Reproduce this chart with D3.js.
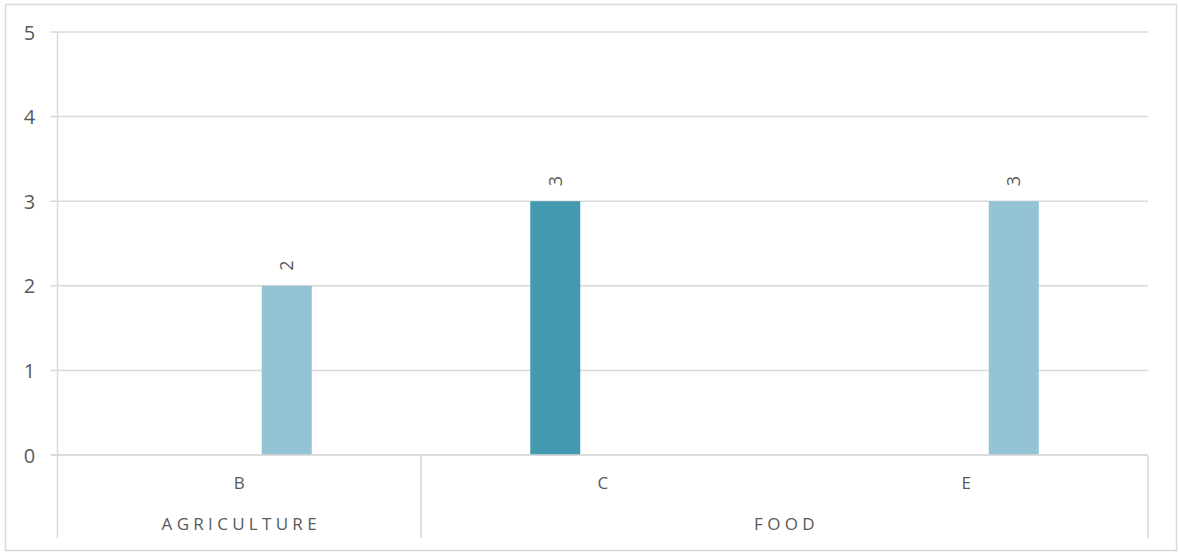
<!DOCTYPE html>
<html>
<head>
<meta charset="utf-8">
<script src="https://cdn.jsdelivr.net/npm/d3@7"></script>
<style>
  html, body { margin: 0; padding: 0; background: #fff; }
  svg { display: block; }
  text { font-family: "Open Sans", "Liberation Sans", sans-serif; fill: #595959; }
</style>
</head>
<body>
<script>
// Category axis (two levels) and series values
const categories = ["B", "C", "E"];
const categoryGroups = ["AGRICULTURE", "FOOD", "FOOD"];
const seriesNames = ["Series 1", "Series 2"];
const series1 = [null, 3, null];
const series2 = [2, null, 3];
const yTicks = [0, 1, 2, 3, 4, 5];

const seriesValues = [series1, series2];
const seriesColors = ["#4399b0", "#93c3d4"];

const W = 1178, H = 552;
const plot = { left: 57.5, right: 1148, top: 32, bottom: 455 };
const lvl1Y = 483, lvl2Y = 524, axisBottom = 538;

const svg = d3.select("body").append("svg").attr("width", W).attr("height", H);

// outer chart border
svg.append("rect")
  .attr("x", 5.5).attr("y", 4.5).attr("width", 1171).attr("height", 546)
  .attr("fill", "#fff").attr("stroke", "#d9d9d9").attr("stroke-width", 1.5);

const x0 = d3.scaleBand().domain(categories).range([plot.left, plot.right]).paddingInner(0).paddingOuter(0);
const y = d3.scaleLinear().domain([0, 5]).range([plot.bottom, plot.top]);

// inner band: two series per category, bars 50 wide with centres 95 apart
const barW = 50, seriesStep = 95;
const x1 = d3.scaleBand().domain(seriesNames)
  .range([-seriesStep, seriesStep])
  .paddingInner((seriesStep - barW) / seriesStep)
  .paddingOuter((seriesStep - barW) / seriesStep / 2);

// value axis labels
const gy = svg.append("g").attr("transform", `translate(${plot.left},0)`);
gy.call(d3.axisLeft(y).tickValues(yTicks).tickSize(0).tickFormat(d3.format("d")));
gy.select(".domain").remove();
gy.selectAll(".tick text")
  .attr("x", -28).attr("dy", "0.35em")
  .style("font-size", "20px").attr("fill", "#595959")
  .attr("text-anchor", "middle");

// horizontal gridlines with tick stubs on the left
const grid = svg.append("g");
grid.selectAll("line").data(yTicks).join("line")
  .attr("x1", plot.left - 7).attr("x2", plot.right)
  .attr("y1", d => y(d)).attr("y2", d => y(d))
  .attr("stroke", "#d9d9d9").attr("stroke-width", 1.5);

// vertical axis line
svg.append("line")
  .attr("x1", plot.left).attr("x2", plot.left)
  .attr("y1", plot.top).attr("y2", axisBottom)
  .attr("stroke", "#d9d9d9").attr("stroke-width", 1.5);

// bars
const bars = [];
seriesValues.forEach((vals, si) => {
  vals.forEach((v, ci) => {
    if (v == null) return;
    bars.push({ cat: categories[ci], series: seriesNames[si], value: v, color: seriesColors[si] });
  });
});
const barX = d => x0(d.cat) + x0.bandwidth() / 2 + x1(d.series);

svg.append("g").selectAll("rect").data(bars).join("rect")
  .attr("x", barX)
  .attr("y", d => y(d.value))
  .attr("width", x1.bandwidth())
  .attr("height", d => y(0) - y(d.value))
  .attr("fill", d => d.color);

// baseline over bars
svg.append("line")
  .attr("x1", plot.left - 7).attr("x2", plot.right)
  .attr("y1", y(0)).attr("y2", y(0))
  .attr("stroke", "#d9d9d9").attr("stroke-width", 1.5);

// rotated value labels
svg.append("g").selectAll("text").data(bars).join("text")
  .attr("transform", d => `translate(${barX(d) + x1.bandwidth() / 2},${y(d.value) - 15}) rotate(-90)`)
  .attr("dy", "0.35em")
  .attr("text-anchor", "start")
  .style("font-size", "18px")
  .text(d => d.value);

// first category level
svg.append("g").selectAll("text").data(categories).join("text")
  .attr("x", d => x0(d) + x0.bandwidth() / 2)
  .attr("y", lvl1Y).attr("dy", "0.35em")
  .attr("text-anchor", "middle")
  .style("font-size", "17px")
  .text(d => d);

// second category level: groups spanning consecutive categories
const groupSpans = [];
categories.forEach((c, i) => {
  const g = categoryGroups[i];
  const last = groupSpans[groupSpans.length - 1];
  if (last && last.name === g) last.x1 = x0(c) + x0.bandwidth();
  else groupSpans.push({ name: g, x0: x0(c), x1: x0(c) + x0.bandwidth() });
});

svg.append("g").selectAll("text").data(groupSpans).join("text")
  .attr("x", d => (d.x0 + d.x1) / 2 + 2)
  .attr("y", lvl2Y).attr("dy", "0.35em")
  .attr("text-anchor", "middle")
  .style("font-size", "17px")
  .style("letter-spacing", "4.3px")
  .text(d => d.name);

// group separators below the baseline
const seps = groupSpans.slice(1).map(d => d.x0).concat([plot.right]);
svg.append("g").selectAll("line").data(seps).join("line")
  .attr("x1", d => d).attr("x2", d => d)
  .attr("y1", y(0)).attr("y2", axisBottom)
  .attr("stroke", "#d9d9d9").attr("stroke-width", 1.5);
</script>
</body>
</html>
